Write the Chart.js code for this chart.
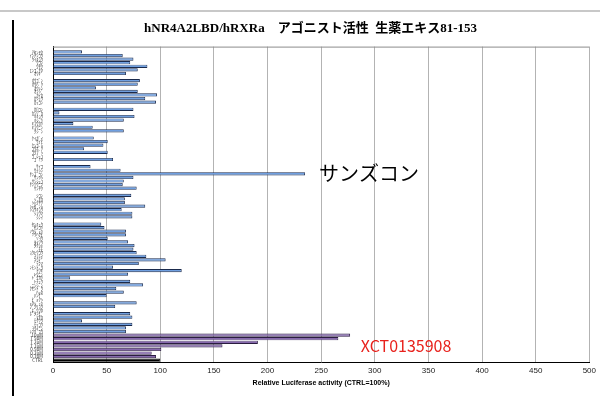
<!DOCTYPE html>
<html>
<head>
<meta charset="utf-8">
<script src="https://cdn.jsdelivr.net/npm/chart.js@4"></script>
<style>
  html, body { margin: 0; padding: 0; background: #fff; }
  #wrap { position: relative; width: 600px; height: 396px; }
  #topline { position: absolute; left: 0; top: 10px; width: 600px; border-top: 2px solid #c8c8c8; }
  #leftline { position: absolute; left: 12px; top: 20px; height: 376px; border-left: 2px solid #000; }
  canvas { position: absolute; left: 0; top: 0; }
</style>
</head>
<body>
<div id="wrap">
  <div id="topline"></div>
  <div id="leftline"></div>
  <canvas id="chart" width="600" height="396"></canvas>
</div>
<script>
// 生薬エキス 81-153
const extractNames = [
  'ｱｾﾝﾔｸ', 'ｲﾝﾁﾝｺｳ', 'ｳｲｷｮｳ', 'ｳｺﾝ', 'ｳﾔｸ', 'ｴﾝｺﾞｻｸ', 'ｵｳｷﾞ',
  'ｵｳｺﾞﾝ', 'ｵｳﾊﾞｸ', 'ｵｳﾚﾝ', 'ｵﾝｼﾞ', 'ｶｲｶ', 'ｶｼｭｳ', 'ｶｯｺﾝ',
  'ｶﾛｺﾝ', 'ｶﾝｿﾞｳ', 'ｷｷｮｳ', 'ｷｼﾞﾂ', 'ｷｮｳｶﾂ', 'ｷｮｳﾆﾝ', 'ｸｼﾞﾝ',
  'ｹｲｶﾞｲ', 'ｹｲﾋ', 'ｹﾝｺﾞｼ', 'ｺｳﾎﾞｸ', 'ｺｳﾌﾞｼ', 'ｺﾞｼｭﾕ', 'ｺﾞﾐｼ',
  'ｻｲｺ', 'ｻｲｼﾝ', 'ｻﾝｽﾞｺﾝ', 'ｻﾝｼｼ', 'ｻﾝｼｭﾕ', 'ｻﾝｿｳﾆﾝ', 'ｻﾝﾔｸ',
  'ｼｺﾝ', 'ｼﾞｵｳ', 'ｼｬｸﾔｸ', 'ｼｬｾﾞﾝｼ', 'ｼｮｳｷｮｳ', 'ｼｮｳﾏ', 'ｼﾝｲ',
  'ｾﾝｷｭｳ', 'ｾﾝｺﾂ', 'ｿｳｼﾞｭﾂ', 'ｿｳﾊｸﾋ', 'ｿﾖｳ', 'ﾀｲｿｳ', 'ﾀｸｼｬ',
  'ﾁﾓ', 'ﾁｮｳﾄｳｺｳ', 'ﾁｮﾚｲ', 'ﾁﾝﾋﾟ', 'ﾃﾝﾏ', 'ﾃﾝﾓﾝﾄﾞｳ', 'ﾄｳｷ',
  'ﾄｳﾆﾝ', 'ﾄﾞｸｶﾂ', 'ﾄﾁｭｳ', 'ﾆﾝｼﾞﾝ', 'ﾊﾞｸﾓﾝﾄﾞｳ', 'ﾊｯｶ', 'ﾊﾝｹﾞ',
  'ﾋﾞｬｸｼ', 'ﾋﾞｬｸｼﾞｭﾂ', 'ﾌﾞｸﾘｮｳ', 'ﾎﾞｳﾌｳ', 'ﾎﾞﾀﾝﾋﾟ', 'ﾏｵｳ', 'ﾓｸﾂｳ',
  'ﾓｯｺｳ', 'ﾖｸｲﾆﾝ', 'ﾚﾝｷﾞｮｳ'
];
const extractValues = [
  27, 65, 75, 72, 88, 79, 68,
  81, 79, 40, 79, 97, 86, 96,
  75, 6, 76, 66, 19, 37, 66,
  38, 51, 47, 29, 51, 0, 56,
  35, 63, 235, 75, 66, 65, 78,
  73, 67, 67, 86, 64, 74, 74,
  45, 48, 68, 68, 51, 70, 76, 75, 78, 87, 105, 80, 56, 120, 70, 16,
  72, 84, 59, 66, 50, 0, 78, 58, 0, 72, 74, 27, 74, 68, 68
];
const controlNames = ['XCT 10μM', 'XCT 5μM', 'XCT 2μM', 'XCT 1μM', 'XCT 0.5μM', 'XCT 0.2μM', 'XCT 0.1μM', 'CTRL'];
const controlValues = [277, 266, 191, 158, 101, 92, 96, 100];

// build rows: a blank row before each plate of 7 in the first 42, then one more
const labels = [], values = [], fills = [], borders = [];
extractNames.forEach((name, i) => {
  if (i <= 42 && i % 7 === 0) {
    labels.push(''); values.push(null); fills.push('#fff'); borders.push('#fff');
  }
  labels.push(name); values.push(extractValues[i]);
  fills.push('#6f9fe0'); borders.push('#1a2a4c');
});
controlNames.forEach((name, i) => {
  labels.push(name); values.push(controlValues[i]);
  const last = i === controlNames.length - 1;
  fills.push(last ? '#000' : '#8668ad'); borders.push(last ? '#000' : '#2a1c40');
});

const notes = [
  { text: 'サンズコン', row: labels.indexOf('ｻﾝｽﾞｺﾝ'), x: 248, color: '#000', size: 20 },
  { text: 'XCT0135908', row: labels.indexOf('XCT 1μM'), x: 287, color: '#e8211c', size: 16 }
];

const extras = {
  id: 'extras',
  afterDatasetsDraw(chart) {
    const { ctx, chartArea, scales } = chart;
    ctx.save();
    ctx.strokeStyle = '#8c8c8c';
    ctx.lineWidth = 1;
    ctx.beginPath();
    ctx.moveTo(chartArea.left, chartArea.top + 0.5);
    ctx.lineTo(chartArea.right, chartArea.top + 0.5);
    ctx.stroke();
    ctx.textBaseline = 'middle';
    notes.forEach(n => {
      ctx.fillStyle = n.color;
      ctx.font = n.size + "px 'Noto Sans CJK JP', 'Noto Sans'";
      ctx.fillText(n.text, scales.x.getPixelForValue(n.x), scales.y.getPixelForValue(n.row));
    });
    ctx.restore();
  }
};

new Chart(document.getElementById('chart'), {
  type: 'bar',
  data: {
    labels: labels,
    datasets: [{
      data: values,
      backgroundColor: fills,
      borderColor: borders,
      borderWidth: 0.9,
      barPercentage: 0.9,
      categoryPercentage: 1
    }]
  },
  options: {
    indexAxis: 'y',
    responsive: false,
    animation: false,
    devicePixelRatio: 1,
    layout: { padding: { left: 30, right: 9, top: 21, bottom: 0 } },
    plugins: {
      legend: { display: false },
      tooltip: { enabled: false },
      title: {
        display: true,
        text: 'hNR4A2LBD/hRXRa　アゴニスト活性  生薬エキス81-153',
        color: '#000',
        font: { size: 13, weight: 'bold', family: "'Liberation Serif', 'Noto Sans CJK JP'" },
        padding: { top: 0, bottom: 10 }
      }
    },
    scales: {
      x: {
        min: 0,
        max: 500,
        ticks: { stepSize: 50, color: '#222', padding: 4, font: { size: 8, family: "'Liberation Sans'" } },
        grid: { color: '#b3b3b3', drawTicks: false },
        border: { color: '#000' },
        title: {
          display: true,
          text: 'Relative Luciferase activity (CTRL=100%)',
          color: '#000',
          font: { size: 7, weight: 'bold', family: "'Liberation Sans'" },
          padding: { top: 0, bottom: 9 }
        },
        afterFit(scale) { scale.height = 34; }
      },
      y: {
        ticks: { autoSkip: false, color: '#333', padding: 2, font: { size: 4.5, family: "'Noto Sans CJK JP'" } },
        grid: { display: false },
        border: { color: '#000' },
        afterFit(scale) { scale.width = 23; }
      }
    }
  },
  plugins: [extras]
});
</script>
</body>
</html>
